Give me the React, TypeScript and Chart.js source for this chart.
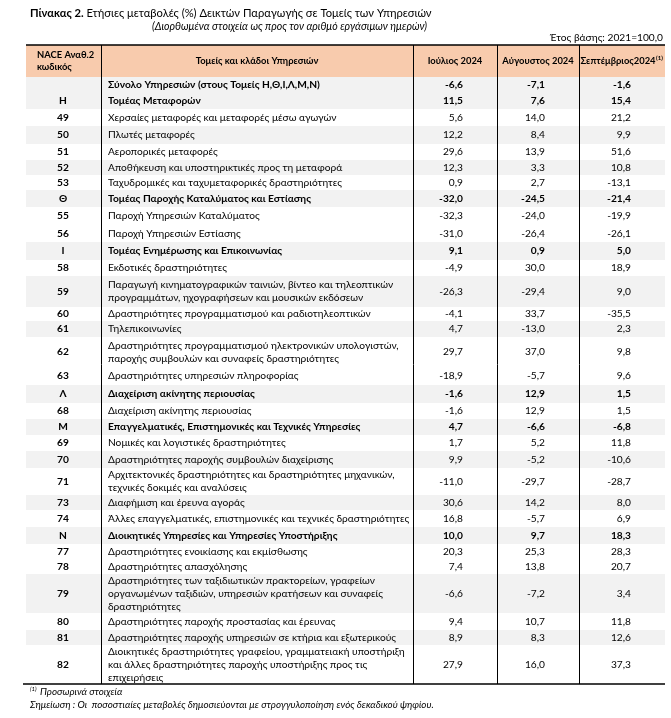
import React, { useEffect, useRef } from 'react';
import { Chart, registerables } from 'chart.js';
Chart.register(...registerables);

// ---------- data ----------
const codes = ['', 'Η', '49', '50', '51', '52', '53', 'Θ', '55', '56', 'Ι', '58', '59', '60', '61', '62', '63', 'Λ', '68', 'Μ', '69', '70', '71', '73', '74', 'Ν', '77', '78', '79', '80', '81', '82'];
const sectors = [
  'Σύνολο Υπηρεσιών (στους Τομείς Η,Θ,Ι,Λ,Μ,Ν)',
  'Τομέας Μεταφορών',
  'Χερσαίες μεταφορές και μεταφορές μέσω αγωγών',
  'Πλωτές μεταφορές',
  'Αεροπορικές μεταφορές',
  'Αποθήκευση και υποστηρικτικές προς τη μεταφορά',
  'Ταχυδρομικές και ταχυμεταφορικές δραστηριότητες',
  'Τομέας Παροχής Καταλύματος και Εστίασης',
  'Παροχή Υπηρεσιών Καταλύματος',
  'Παροχή Υπηρεσιών Εστίασης',
  'Τομέας Ενημέρωσης και Επικοινωνίας',
  'Εκδοτικές δραστηριότητες',
  'Παραγωγή κινηματογραφικών ταινιών, βίντεο και τηλεοπτικών\nπρογραμμάτων, ηχογραφήσεων και μουσικών εκδόσεων',
  'Δραστηριότητες προγραμματισμού και ραδιοτηλεοπτικών',
  'Τηλεπικοινωνίες',
  'Δραστηριότητες προγραμματισμού ηλεκτρονικών υπολογιστών,\nπαροχής συμβουλών και συναφείς δραστηριότητες',
  'Δραστηριότητες υπηρεσιών πληροφορίας',
  'Διαχείριση ακίνητης περιουσίας',
  'Διαχείριση ακίνητης περιουσίας',
  'Επαγγελματικές, Επιστημονικές και Τεχνικές Υπηρεσίες',
  'Νομικές και λογιστικές δραστηριότητες',
  'Δραστηριότητες παροχής συμβουλών διαχείρισης',
  'Αρχιτεκτονικές δραστηριότητες και δραστηριότητες μηχανικών,\nτεχνικές δοκιμές και αναλύσεις',
  'Διαφήμιση και έρευνα αγοράς',
  'Άλλες επαγγελματικές, επιστημονικές και τεχνικές δραστηριότητες',
  'Διοικητικές Υπηρεσίες και Υπηρεσίες Υποστήριξης',
  'Δραστηριότητες ενοικίασης και εκμίσθωσης',
  'Δραστηριότητες απασχόλησης',
  'Δραστηριότητες των ταξιδιωτικών πρακτορείων, γραφείων\nοργανωμένων ταξιδιών, υπηρεσιών κρατήσεων και συναφείς\nδραστηριότητες',
  'Δραστηριότητες παροχής προστασίας και έρευνας',
  'Δραστηριότητες παροχής υπηρεσιών σε κτήρια και εξωτερικούς',
  'Διοικητικές δραστηριότητες γραφείου, γραμματειακή υποστήριξη\nκαι άλλες δραστηριότητες παροχής υποστήριξης προς τις\nεπιχειρήσεις',
];
const july = [-6.6, 11.5, 5.6, 12.2, 29.6, 12.3, 0.9, -32.0, -32.3, -31.0, 9.1, -4.9, -26.3, -4.1, 4.7, 29.7, -18.9, -1.6, -1.6, 4.7, 1.7, 9.9, -11.0, 30.6, 16.8, 10.0, 20.3, 7.4, -6.6, 9.4, 8.9, 27.9];
const august = [-7.1, 7.6, 14.0, 8.4, 13.9, 3.3, 2.7, -24.5, -24.0, -26.4, 0.9, 30.0, -29.4, 33.7, -13.0, 37.0, -5.7, 12.9, 12.9, -6.6, 5.2, -5.2, -29.7, 14.2, -5.7, 9.7, 25.3, 13.8, -7.2, 10.7, 8.3, 16.0];
const september = [-1.6, 15.4, 21.2, 9.9, 51.6, 10.8, -13.1, -21.4, -19.9, -26.1, 5.0, 18.9, 9.0, -35.5, 2.3, 9.8, 9.6, 1.5, 1.5, -6.8, 11.8, -10.6, -28.7, 8.0, 6.9, 18.3, 28.3, 20.7, 3.4, 11.8, 12.6, 37.3];
const columnTitles = ['NACE Αναθ.2\nκωδικός', 'Τομείς και κλάδοι Υπηρεσιών', 'Ιούλιος 2024', 'Αύγουστος 2024', 'Σεπτέμβριος2024'];
const titleBold = 'Πίνακας 2.';
const titleRest = ' Ετήσιες μεταβολές (%) Δεικτών Παραγωγής σε Τομείς των Υπηρεσιών';
const subtitle = '(Διορθωμένα στοιχεία ως προς τον αριθμό εργάσιμων ημερών)';
const baseYear = 'Έτος βάσης: 2021=100,0';
const footnote1 = 'Προσωρινά στοιχεία';
const footnote2 = 'Σημείωση : Οι  ποσοστιαίες μεταβολές δημοσιεύονται με στρογγυλοποίηση ενός δεκαδικού ψηφίου.';

// ---------- layout / style ----------
const W = 671;
const H = 718;
const sectorCodes = ['', 'Η', 'Θ', 'Ι', 'Λ', 'Μ', 'Ν'];
const shadedCodes = ['', 'Η', '50', '52', 'Θ', 'Ι', '59', '61', 'Λ', 'Μ', '70', '73', 'Ν', '79', '81'];
const COL_X = [26, 101, 413, 497, 579, 665];
const HEADER_TOP = 45;
const HEADER_BOTTOM = 77;
const ROW_H = [15, 17, 17, 18, 16, 15, 15, 17, 18, 17, 18, 16, 31, 14, 16, 30, 18, 18, 16, 16, 16, 17, 27, 15, 17, 17, 15, 15, 39, 17, 15, 39];
const FONT = 'Lato, "Open Sans", sans-serif';
const BODY = 10.2;
const HEAD = 9.4;
const HEADER_BG = '#F8CBAD';
const SHADE_BG = '#F2F2F2';
const TEXT = '#000000';

const fmt = (v: number) => v.toFixed(1).replace('.', ',');

const tablePlugin = {
  id: 'tablePlugin',
  afterDraw(chart: any) {
    const ctx: CanvasRenderingContext2D = chart.ctx;
    const xs = chart.scales.x;
    const ys = chart.scales.y;
    const px = (v: number) => xs.getPixelForValue(v);
    const py = (v: number) => ys.getPixelForValue(v);
    ctx.save();
    ctx.fillStyle = '#ffffff';
    ctx.fillRect(0, 0, W, H);
    ctx.textBaseline = 'middle';
    ctx.fillStyle = TEXT;

    // title
    ctx.font = `bold 11.2px ${FONT}`;
    ctx.textAlign = 'left';
    ctx.fillText(titleBold, px(30), py(13));
    const bw = ctx.measureText(titleBold).width;
    ctx.font = `11.2px ${FONT}`;
    ctx.fillText(titleRest, px(30) + bw, py(13));
    ctx.font = `italic 10.6px ${FONT}`;
    ctx.fillText(subtitle, px(152), py(27));
    ctx.font = `10.2px ${FONT}`;
    ctx.textAlign = 'right';
    ctx.fillText(baseYear, px(663), py(38));

    // header
    ctx.fillStyle = HEADER_BG;
    ctx.fillRect(px(COL_X[0]), py(HEADER_TOP), px(COL_X[5]) - px(COL_X[0]), py(HEADER_BOTTOM) - py(HEADER_TOP));
    ctx.fillStyle = TEXT;
    ctx.font = `bold ${HEAD}px ${FONT}`;
    const hMid = (HEADER_TOP + HEADER_BOTTOM) / 2;
    const [h0a, h0b] = columnTitles[0].split('\n');
    ctx.textAlign = 'left';
    ctx.fillText(h0a, px(37), py(hMid - 6));
    ctx.fillText(h0b, px(37), py(hMid + 6));
    ctx.textAlign = 'center';
    for (let c = 1; c < 5; c++) {
      const cx = (COL_X[c] + COL_X[c + 1]) / 2;
      if (c === 4) {
        const w = ctx.measureText(columnTitles[c]).width;
        ctx.fillText(columnTitles[c], px(cx - 4), py(hMid));
        ctx.font = `bold 6px ${FONT}`;
        ctx.textAlign = 'left';
        ctx.fillText('(1)', px(cx - 4) + w / 2 + 0.5, py(hMid - 3));
        ctx.font = `bold ${HEAD}px ${FONT}`;
        ctx.textAlign = 'center';
      } else {
        ctx.fillText(columnTitles[c], px(cx), py(hMid));
      }
    }

    // rows
    let top = HEADER_BOTTOM;
    codes.forEach((code, i) => {
      const h = ROW_H[i];
      const mid = top + h / 2;
      const bold = sectorCodes.includes(code);
      if (shadedCodes.includes(code)) {
        ctx.fillStyle = SHADE_BG;
        ctx.fillRect(px(COL_X[0]), py(top), px(COL_X[5]) - px(COL_X[0]), py(top + h) - py(top));
      }
      ctx.fillStyle = TEXT;
      ctx.font = `bold ${BODY}px ${FONT}`;
      ctx.textAlign = 'center';
      ctx.fillText(code, px(63), py(mid));
      ctx.font = `${bold ? 'bold ' : ''}${BODY}px ${FONT}`;
      ctx.textAlign = 'left';
      const lines = sectors[i].split('\n');
      const lh = 13;
      lines.forEach((ln, k) => {
        ctx.fillText(ln, px(108), py(mid + (k - (lines.length - 1) / 2) * lh));
      });
      ctx.textAlign = 'right';
      [july, august, september].forEach((arr, c) => {
        ctx.fillText(fmt(arr[i]), px(COL_X[c + 3] - 34), py(mid));
      });
      top += h;
    });

    // grid lines
    ctx.strokeStyle = '#000000';
    ctx.lineWidth = 1;
    for (let c = 1; c < 5; c++) {
      const x = Math.round(px(COL_X[c])) + 0.5;
      ctx.beginPath();
      ctx.moveTo(x, py(HEADER_TOP));
      ctx.lineTo(x, py(top));
      ctx.stroke();
    }
    ctx.lineWidth = 1.5;
    ctx.beginPath();
    ctx.moveTo(px(COL_X[0]), py(HEADER_TOP));
    ctx.lineTo(px(COL_X[5]), py(HEADER_TOP));
    ctx.stroke();
    ctx.beginPath();
    ctx.moveTo(px(23), py(top));
    ctx.lineTo(px(COL_X[5]), py(top));
    ctx.stroke();

    // footnotes
    ctx.fillStyle = TEXT;
    ctx.textAlign = 'left';
    ctx.font = `italic 6px ${FONT}`;
    ctx.fillText('(1)', px(30), py(top + 5));
    ctx.font = `italic 9.8px ${FONT}`;
    ctx.fillText(footnote1, px(40), py(top + 8));
    ctx.fillText(footnote2, px(30), py(top + 21));
    ctx.restore();
  },
};

export default function App() {
  const ref = useRef<HTMLCanvasElement | null>(null);
  useEffect(() => {
    if (!ref.current) return;
    const chart = new Chart(ref.current, {
      type: 'scatter',
      data: { datasets: [] },
      options: {
        animation: false,
        responsive: false,
        maintainAspectRatio: false,
        layout: { padding: 0 },
        plugins: { legend: { display: false }, tooltip: { enabled: false }, title: { display: false } },
        scales: {
          x: { type: 'linear', min: 0, max: W, display: false },
          y: { type: 'linear', min: 0, max: H, reverse: true, display: false },
        },
      },
      plugins: [tablePlugin],
    } as any);
    return () => chart.destroy();
  }, []);
  return (
    <div style={{ position: 'absolute', left: 0, top: 0, width: W, height: H, background: '#fff' }}>
      <canvas ref={ref} width={W} height={H} style={{ display: 'block', width: W, height: H }} />
    </div>
  );
}
